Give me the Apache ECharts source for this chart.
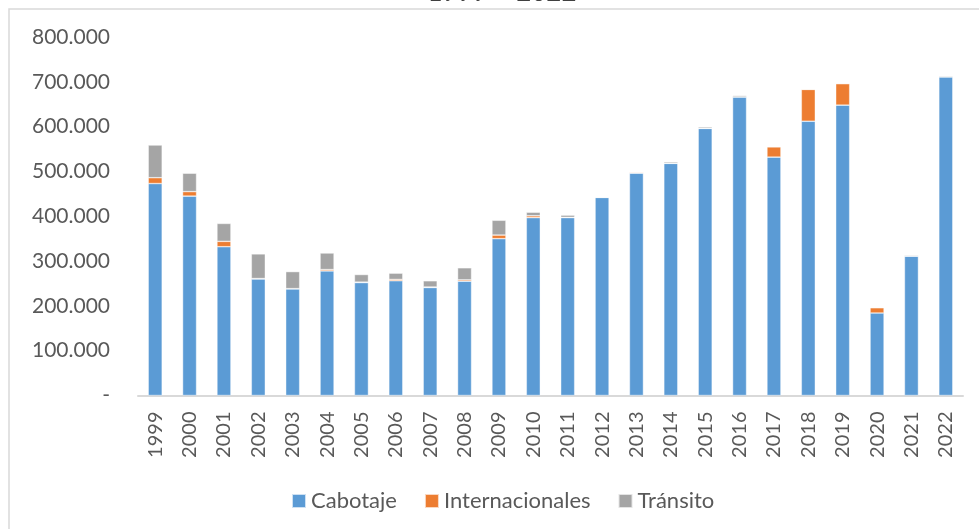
<!DOCTYPE html>
<html>
<head>
<meta charset="utf-8">
<script src="https://cdn.jsdelivr.net/npm/echarts@6/dist/echarts.min.js"></script>
<style>
html,body{margin:0;padding:0;background:#fff;}
#chart{width:979px;height:529px;}
</style>
</head>
<body>
<div id="chart"></div>
<script>
const years = ['1999','2000','2001','2002','2003','2004','2005','2006','2007','2008','2009','2010','2011','2012','2013','2014','2015','2016','2017','2018','2019','2020','2021','2022'];
const cabotaje = [473000,445000,332000,260000,238000,278000,252000,256000,241000,255000,350000,397000,397000,442000,496000,518000,596000,666000,532000,612000,648000,184000,311000,711000];
const internacionales = [13000,10000,12000,1000,500,3000,1000,3000,1000,3000,8000,4000,500,300,2000,500,300,300,23000,71000,48000,12000,300,300];
const transito = [73000,41000,40000,55000,38000,37000,17000,14000,14000,27000,33000,8000,5000,0,0,3000,3000,3000,0,0,0,0,2000,2000];
const seriesNames = ['Cabotaje','Internacionales','Tránsito'];
const yTicks = [0,100000,200000,300000,400000,500000,600000,700000,800000];
const titleText = '1999 – 2022';

const FONT = 'Lato';
const TXT = '#595959';
function fmt(v){
  if (v === 0) return '-';
  return v.toString().replace(/\B(?=(\d{3})+(?!\d))/g, '.');
}
const chart = echarts.init(document.getElementById('chart'), null, {renderer:'canvas'});
const barStyle = (c) => ({color:c, borderColor:'rgba(255,255,255,0.7)', borderWidth:0.6});
chart.setOption({
  animation:false,
  backgroundColor:'#fff',
  textStyle:{fontFamily:FONT},
  graphic:[
    {type:'rect', shape:{x:9, y:9, width:1200, height:800}, style:{fill:'none', stroke:'#d9d9d9', lineWidth:1.5}, silent:true},
    {type:'text', x:502, y:-7, style:{text:titleText, fill:'#404040', font:'26px Lato', textAlign:'center', textVerticalAlign:'middle'}, silent:true}
  ],
  grid:{left:138, right:16, top:37, bottom:133.5, containLabel:false},
  legend:{
    data:seriesNames,
    left:286, top:485,
    itemWidth:14, itemHeight:14, itemGap:27,
    icon:'rect',
    textStyle:{fontFamily:FONT, fontSize:22, color:TXT}
  },
  xAxis:{
    type:'category', data:years,
    axisLine:{lineStyle:{color:'#d9d9d9', width:2}},
    axisTick:{show:false},
    axisLabel:{rotate:90, margin:16, fontSize:20, color:TXT, fontFamily:FONT, interval:0}
  },
  yAxis:{
    type:'value', min:yTicks[0], max:yTicks[yTicks.length-1], interval:100000,
    axisLine:{show:false}, axisTick:{show:false},
    splitLine:{show:false},
    axisLabel:{margin:28, fontSize:21, color:TXT, fontFamily:FONT, formatter:fmt}
  },
  series:[
    {name:seriesNames[0], type:'bar', stack:'t', data:cabotaje, barWidth:14, itemStyle:barStyle('#5B9BD5')},
    {name:seriesNames[1], type:'bar', stack:'t', data:internacionales, barWidth:14, itemStyle:barStyle('#ED7D31')},
    {name:seriesNames[2], type:'bar', stack:'t', data:transito, barWidth:14, itemStyle:barStyle('#A5A5A5')}
  ]
});
</script>
</body>
</html>
